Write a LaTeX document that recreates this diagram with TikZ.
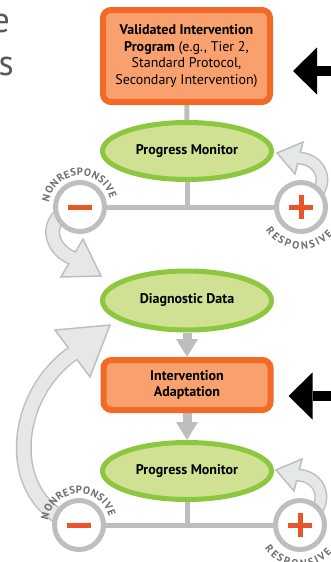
\documentclass[tikz,border=0pt]{standalone}
\usepackage{fontspec}
\setmainfont{PT Sans}
\usetikzlibrary{shapes.geometric,arrows.meta}

\definecolor{boxline}{HTML}{F26A25}
\definecolor{boxfill}{HTML}{F9A16E}
\definecolor{ovalline}{HTML}{8DC63F}
\definecolor{ovalfill}{HTML}{D0E193}
\definecolor{linkgray}{HTML}{BCBEC0}
\definecolor{shaftgray}{HTML}{E6E7E8}
\definecolor{signred}{HTML}{E8552A}
\definecolor{labelgray}{HTML}{6D6E71}
\definecolor{titlegray}{HTML}{58595B}

\pgfdeclarelayer{back}
\pgfsetlayers{back,main}

\tikzset{
  stepbox/.style={rectangle, rounded corners=8pt, draw=boxline, fill=boxfill, line width=6pt,
    minimum width=167pt, inner sep=0pt, align=center, font=\fontsize{14}{16.7}\selectfont},
  oval/.style={ellipse, draw=ovalline, fill=ovalfill, line width=5pt, minimum width=169pt,
    minimum height=57pt, inner sep=0pt, font=\fontsize{14}{16}\selectfont\bfseries},
  ring/.style={circle, draw=linkgray, fill=white, line width=5pt, minimum size=49pt, inner sep=0pt},
  titletext/.style={anchor=base east, inner sep=0pt, text=titlegray, font=\fontsize{36}{40}\selectfont},
  arcletter/.style={inner sep=0pt, text=labelgray, font=\fontsize{10.6}{12}\selectfont\bfseries},
  link/.style={draw=linkgray, line width=5pt},
  sign/.style={draw=signred, line width=5pt},
  downarrow/.style={draw=linkgray, line width=9pt, -{Triangle[width=22pt,length=18pt,line width=0pt]}},
  pointer/.style={draw=black, line width=10pt, -{Triangle[width=47pt,length=24pt,line width=0pt]}},
  shaftout/.style={draw=linkgray, line width=15pt},
  shaftin/.style={draw=shaftgray, line width=12pt},
  headtri/.style={fill=shaftgray, draw=linkgray, line width=1.5pt, line join=miter}
}

\begin{document}
\begin{tikzpicture}[x=1pt,y=1pt]
\useasboundingbox (0,0) rectangle (331,-562);

% title letters cut off by the left edge
\node[titletext] (titleA) at (10,-32) {e};
\node[titletext] (titleB) at (14,-75) {s};

\node[stepbox, minimum height=92pt] (prog) at (186.5,-56)
  {\textbf{Validated Intervention}\\\textbf{Program} (e.g., Tier 2,\\Standard Protocol,\\Secondary Intervention)};
\node[oval] (pm1) at (187,-151) {Progress Monitor};
\node[ring] (m1) at (80,-207) {};
\node[ring] (p1) at (301,-207) {};
\node[oval, minimum height=59pt] (diag) at (187,-300.5) {Diagnostic Data};
\node[stepbox, minimum height=50pt, font=\fontsize{14}{16.7}\selectfont\bfseries] (adapt) at (187,-385)
  {Intervention\\Adaptation};
\node[oval] (pm2) at (187,-471) {Progress Monitor};
\node[ring] (m2) at (79,-525) {};
\node[ring] (p2) at (300,-525) {};

% minus and plus signs
\foreach \c in {m1,m2,p1,p2}
  \draw[sign] ([xshift=-12pt]\c.center) -- ([xshift=12pt]\c.center);
\foreach \c in {p1,p2}
  \draw[sign] ([yshift=-12pt]\c.center) -- ([yshift=12pt]\c.center);

% curved labels, one letter at a time
\foreach \c in {m1,m2}
  \foreach \ch/\a [count=\i] in {N/165,O/151,N/137.2,R/124.2,E/112.4,S/101.5,P/90.2,
      O/77.3,N/63.6,S/51.4,I/42.6,V/33,E/21}
    \node[arcletter, rotate=\a-90] (\c-no\i) at ([shift={(\a:35)}]\c.center) {\ch};
\foreach \c in {p1,p2}
  \foreach \ch/\a [count=\i] in {R/218,E/229.1,S/239.5,P/250.3,O/262.4,N/275.2,S/286.7,
      I/295.2,V/304.3,E/315.4}
    \node[arcletter, rotate=\a+90] (\c-yes\i) at ([shift={(\a:38.5)}]\c.center) {\ch};

% black pointers from the right
\coordinate (srcA) at (345,-71);
\coordinate (srcB) at (345,-396);
\draw[pointer, shorten >=20pt] (srcA) -- (srcA -| prog.east);
\draw[pointer, shorten >=15pt] (srcB) -- (srcB -| adapt.east);

\begin{pgfonlayer}{back}
\draw[link] (prog) -- (pm1);
\draw[link] (pm1.south) -- (pm1.south |- m1);
\draw[link] (m1) -- (p1);
\draw[link] (pm2.south) -- (pm2.south |- m2);
\draw[link] (m2) -- (p2);
\draw[downarrow] (diag) -- (adapt);
\draw[downarrow] (adapt) -- (pm2);

% minus 1 to diagnostic data
\draw[shaftout] (m1.center) .. controls (45,-212) and (45,-246) .. (72,-258);
\filldraw[headtri] (83,-239) -- (101,-276) -- (61,-277) -- cycle;
\draw[shaftin] (m1.center) .. controls (45,-212) and (45,-246) .. (72,-258) -- (76,-260);
% plus 1 back to progress monitor
\draw[shaftout, line width=13pt] (p1.center) .. controls (332,-192) and (326,-160) .. (299,-158);
\filldraw[headtri] (303,-142) -- (277,-153) -- (295,-174) -- cycle;
\draw[shaftin, line width=10pt] (p1.center) .. controls (332,-192) and (326,-160) .. (299,-158) -- (295,-157);
% minus 2 to diagnostic data
\draw[shaftout, line width=16pt] (m2.center) .. controls (5,-505) and (8,-400) .. (72,-354);
\filldraw[headtri] (55,-330) -- (110,-325) -- (90,-377) -- cycle;
\draw[shaftin, line width=13pt] (m2.center) .. controls (5,-505) and (8,-400) .. (72,-354) -- (76,-351);
% plus 2 back to progress monitor
\draw[shaftout, line width=13pt] (p2.center) .. controls (331,-509) and (325,-477) .. (298,-475);
\filldraw[headtri] (302,-459) -- (276,-470) -- (294,-491) -- cycle;
\draw[shaftin, line width=10pt] (p2.center) .. controls (331,-509) and (325,-477) .. (298,-475) -- (294,-474);
\end{pgfonlayer}
\end{tikzpicture}
\end{document}
